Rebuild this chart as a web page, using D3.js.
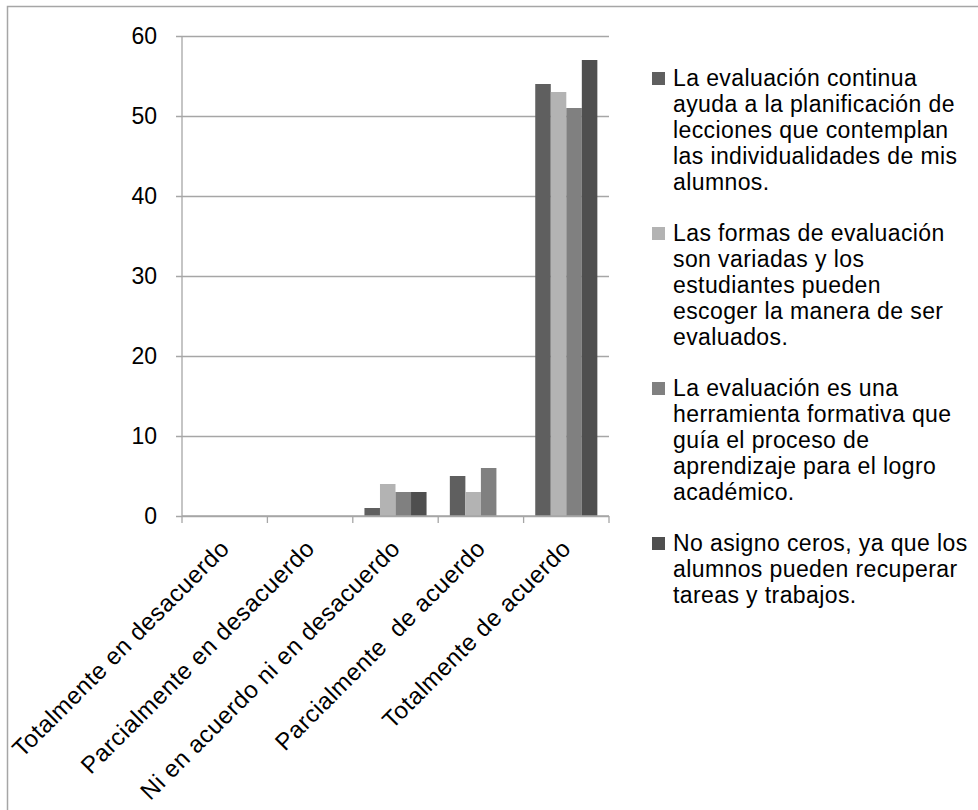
<!DOCTYPE html>
<html>
<head>
<meta charset="utf-8">
<script src="https://cdn.jsdelivr.net/npm/d3@7"></script>
<style>
  html, body { margin: 0; padding: 0; background: #fff; }
  svg text { font-family: "Liberation Sans", Arial, sans-serif; fill: #000; }
</style>
</head>
<body>
<svg id="chart" width="978" height="810"></svg>
<script>
// Response categories on the x axis
const categories = [
  "Totalmente en desacuerdo",
  "Parcialmente en desacuerdo",
  "Ni en acuerdo ni en desacuerdo",
  "Parcialmente  de acuerdo",
  "Totalmente de acuerdo"
];

// Statements (one series each), pre-wrapped for the legend
const seriesLabels = [
  ["La evaluación continua", "ayuda a la planificación de", "lecciones que contemplan", "las individualidades de mis", "alumnos."],
  ["Las formas de evaluación", "son variadas y los", "estudiantes pueden", "escoger la manera de ser", "evaluados."],
  ["La evaluación es una", "herramienta formativa que", "guía el proceso de", "aprendizaje para el logro", "académico."],
  ["No asigno ceros, ya que los", "alumnos pueden recuperar", "tareas y trabajos."]
];

// Counts per category, one array per statement
const serie1 = [0, 0, 1, 5, 54];
const serie2 = [0, 0, 4, 3, 53];
const serie3 = [0, 0, 3, 6, 51];
const serie4 = [0, 0, 3, 0, 57];
const seriesValues = [serie1, serie2, serie3, serie4];

const yTicks = [0, 10, 20, 30, 40, 50, 60];
const colors = ["#5f5f5f", "#b3b3b3", "#808080", "#4f4f4f"];

const svg = d3.select("#chart");
const plot = { left: 182, right: 609, top: 36, bottom: 516 };
const gridColor = "#a6a6a6";

// outer frame
svg.append("rect")
  .attr("x", 7.5).attr("y", 6.5)
  .attr("width", 1000).attr("height", 900)
  .attr("fill", "none").attr("stroke", "#a6a6a6").attr("stroke-width", 1.5);

const y = d3.scaleLinear().domain([0, 60]).range([plot.bottom, plot.top]);
const x0 = d3.scaleBand().domain(categories).range([plot.left, plot.right]).padding(0);
const seriesIdx = seriesValues.map((_, i) => i);
const x1 = d3.scaleBand().domain(seriesIdx).range([0, x0.bandwidth()])
  .paddingInner(0).paddingOuter(0.75);

// horizontal gridlines + y axis
const yAxis = d3.axisLeft(y).tickValues(yTicks).tickSize(6).tickPadding(19);
const gy = svg.append("g").attr("transform", `translate(${plot.left},0)`).call(yAxis);
gy.select(".domain").attr("stroke", gridColor).attr("stroke-width", 1.3)
  .attr("d", `M0,${plot.top}V${plot.bottom}`);
gy.selectAll(".tick line").attr("stroke", gridColor).attr("stroke-width", 1.3)
  .attr("x1", -6).attr("x2", plot.right - plot.left);
gy.selectAll(".tick text").attr("font-size", 23)
  .attr("font-family", "'Liberation Sans', Arial, sans-serif").attr("fill", "#000");

// bars
const groups = svg.append("g").selectAll("g")
  .data(categories)
  .join("g")
  .attr("transform", c => `translate(${x0(c)},0)`);

groups.selectAll("rect")
  .data((c, ci) => seriesValues.map((vals, si) => ({ si, v: vals[ci] })))
  .join("rect")
  .attr("x", d => x1(d.si))
  .attr("width", x1.bandwidth())
  .attr("y", d => y(d.v))
  .attr("height", d => plot.bottom - y(d.v))
  .attr("fill", d => colors[d.si]);

// x axis line and category boundary ticks
const xAxisG = svg.append("g");
xAxisG.append("line")
  .attr("x1", plot.left).attr("x2", plot.right)
  .attr("y1", plot.bottom).attr("y2", plot.bottom)
  .attr("stroke", gridColor).attr("stroke-width", 1.3);
const boundaries = categories.map(c => x0(c)).concat([x0.range()[1]]);
xAxisG.selectAll("line.tk").data(boundaries).join("line").attr("class", "tk")
  .attr("x1", d => d).attr("x2", d => d)
  .attr("y1", plot.bottom).attr("y2", plot.bottom + 7)
  .attr("stroke", gridColor).attr("stroke-width", 1.3);

// rotated category labels
xAxisG.selectAll("text").data(categories).join("text")
  .attr("transform", c => `translate(${x0(c) + x0.bandwidth() / 2 + 6},${plot.bottom + 34}) rotate(-45)`)
  .attr("text-anchor", "end")
  .attr("font-size", 24)
  .attr("letter-spacing", 0.5)
  .style("white-space", "pre")
  .text(c => c);

// legend
const legend = svg.append("g");
const lineH = 26, itemGap = 25, legendX = 652, legendTop = 78;
let cy = legendTop;
seriesLabels.forEach((lines, i) => {
  legend.append("rect")
    .attr("x", legendX).attr("y", cy - 6)
    .attr("width", 13).attr("height", 13)
    .attr("fill", colors[i]);
  lines.forEach((ln, j) => {
    legend.append("text")
      .attr("x", legendX + 21).attr("y", cy + j * lineH)
      .attr("dy", "0.35em")
      .attr("font-size", 23)
      .attr("letter-spacing", 0.4)
      .text(ln);
  });
  cy += lines.length * lineH + itemGap;
});
</script>
</body>
</html>
